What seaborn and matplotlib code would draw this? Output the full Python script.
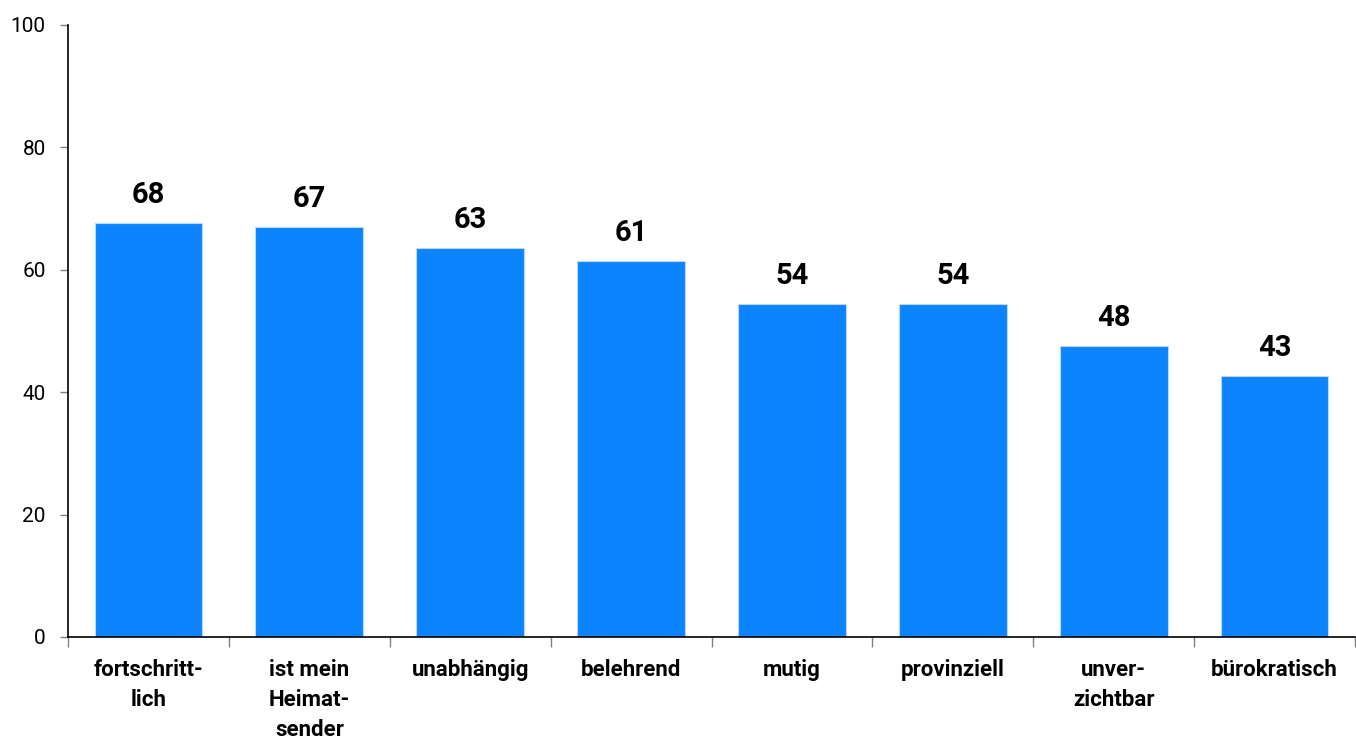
import matplotlib
matplotlib.use("Agg")
import matplotlib.pyplot as plt
import seaborn as sns
import pandas as pd
import numpy as np

categories = ["fortschritt-\nlich", "ist mein\nHeimat-\nsender", "unabhängig", "belehrend",
              "mutig", "provinziell", "unver-\nzichtbar", "bürokratisch"]
values = [67.6, 67.0, 63.5, 61.4, 54.4, 54.4, 47.5, 42.7]
labels = ["68", "67", "63", "61", "54", "54", "48", "43"]
yticks = [0, 20, 40, 60, 80, 100]

sns.set_theme(style="white")
plt.rcParams['font.family'] = ['Roboto', 'DejaVu Sans']
plt.rcParams['text.color'] = 'black'
plt.rcParams['xtick.labelcolor'] = 'black'
plt.rcParams['ytick.labelcolor'] = 'black'

df = pd.DataFrame({"cat": categories, "val": values})

fig = plt.figure(figsize=(13.56, 7.40), dpi=100)
ax = fig.add_axes([68/1356, 1-637/740, (1355-68)/1356, (637-25)/740])

sns.barplot(data=df, x="cat", y="val", color="#0b84fe", saturation=1, width=0.67,
            edgecolor="#b8d8ff", linewidth=0.8, ax=ax)

for i, (v, lab) in enumerate(zip(values, labels)):
    ax.annotate(lab, xy=(i, v), xytext=(0, 10), textcoords="offset points",
                ha="center", va="bottom", fontsize=21, fontweight="bold", color="black")

ax.set_xlim(-0.5, len(categories) - 0.5)
ax.set_ylim(0, 100)
ax.set_yticks(yticks)
ax.set_yticklabels([str(t) for t in yticks], fontsize=15)
ax.set_xlabel("")
ax.set_ylabel("")

ax.set_xticks(range(len(categories)))
ax.set_xticklabels(categories, fontsize=16, fontweight="bold", linespacing=1.45, va="top")
ax.set_xticks(np.arange(-0.5, len(categories), 1.0), minor=True)
ax.tick_params(axis="x", which="major", length=0, pad=16)
ax.tick_params(axis="x", which="minor", length=7, width=1, color="#808080", direction="out", bottom=True)
ax.tick_params(axis="y", which="major", length=6, width=1, color="#808080", direction="out", left=True, pad=10)

for s in ["top", "right"]:
    ax.spines[s].set_visible(False)
for s in ["left", "bottom"]:
    ax.spines[s].set_color("black")
    ax.spines[s].set_linewidth(1.2)

fig.savefig("out.png", dpi=100)
